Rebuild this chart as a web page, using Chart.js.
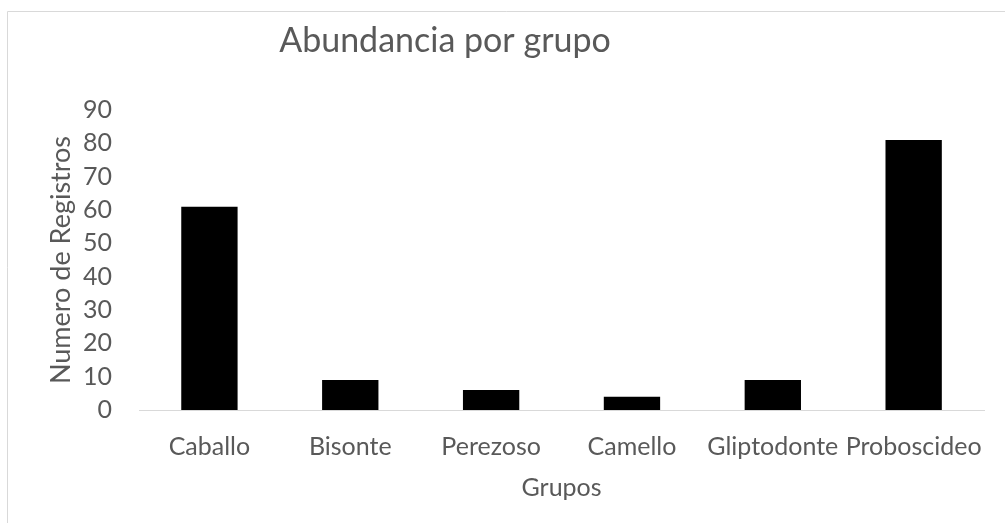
<!DOCTYPE html>
<html>
<head>
  <meta charset="UTF-8" />
  <title>Abundancia por grupo</title>
  <script src="https://cdn.jsdelivr.net/npm/chart.js"></script>
  <style>
    html, body {
      margin: 0;
      padding: 0;
      background: white;
    }
    #wrap {
      width: 1005px;
      height: 523px;
    }
  </style>
</head>
<body>
  <div id="wrap"><canvas id="chart"></canvas></div>

  <script>
    // datos
    const grupos = ['Caballo', 'Bisonte', 'Perezoso', 'Camello', 'Gliptodonte', 'Proboscideo'];
    const registros = [61, 9, 6, 4, 9, 81];
    const titulo = 'Abundancia por grupo';

    const gris = '#595959';
    Chart.defaults.font.family = 'Lato, "Open Sans", sans-serif';
    Chart.defaults.color = gris;

    // marco del grafico + titulo (como en Excel, titulo no centrado en el area)
    const marco = {
      id: 'marco',
      beforeDraw(chart) {
        const ctx = chart.ctx;
        ctx.save();
        ctx.strokeStyle = '#d9d9d9';
        ctx.lineWidth = 1;
        ctx.beginPath();
        ctx.moveTo(7.5, chart.height);
        ctx.lineTo(7.5, 11.5);
        ctx.lineTo(chart.width, 11.5);
        ctx.stroke();
        ctx.restore();
      },
      afterDraw(chart) {
        const ctx = chart.ctx;
        ctx.save();
        ctx.font = '34px Lato';
        ctx.fillStyle = gris;
        ctx.textAlign = 'center';
        ctx.textBaseline = 'alphabetic';
        ctx.fillText(titulo, 445, 52);
        ctx.restore();
      }
    };

    new Chart(document.getElementById('chart'), {
      type: 'bar',
      data: {
        labels: grupos,
        datasets: [{
          label: 'Numero de Registros',
          data: registros,
          backgroundColor: '#000000',
          borderWidth: 0,
          barPercentage: 0.4,
          categoryPercentage: 1
        }]
      },
      options: {
        responsive: true,
        maintainAspectRatio: false,
        animation: false,
        layout: {
          padding: { top: 110, right: 17, bottom: 0, left: 0 }
        },
        plugins: {
          legend: { display: false },
          title: { display: false },
          tooltip: { enabled: false }
        },
        scales: {
          x: {
            grid: { display: false, drawTicks: false },
            border: { display: true, color: '#d9d9d9', width: 1 },
            ticks: {
              font: { size: 25 },
              padding: 22,
              maxRotation: 0,
              autoSkip: false
            },
            title: {
              display: true,
              text: 'Grupos',
              font: { size: 25 },
              padding: { top: 0, bottom: 20 }
            },
            afterFit(scale) { scale.height = 113; }
          },
          y: {
            min: 0,
            max: 90,
            grid: { display: false, drawTicks: false },
            border: { display: false },
            ticks: {
              stepSize: 10,
              font: { size: 25 },
              padding: 27
            },
            title: {
              display: true,
              text: 'Numero de Registros',
              font: { size: 27 },
              padding: { top: 45, bottom: 0 }
            },
            afterFit(scale) { scale.width = 139; }
          }
        }
      },
      plugins: [marco]
    });
  </script>
</body>
</html>
